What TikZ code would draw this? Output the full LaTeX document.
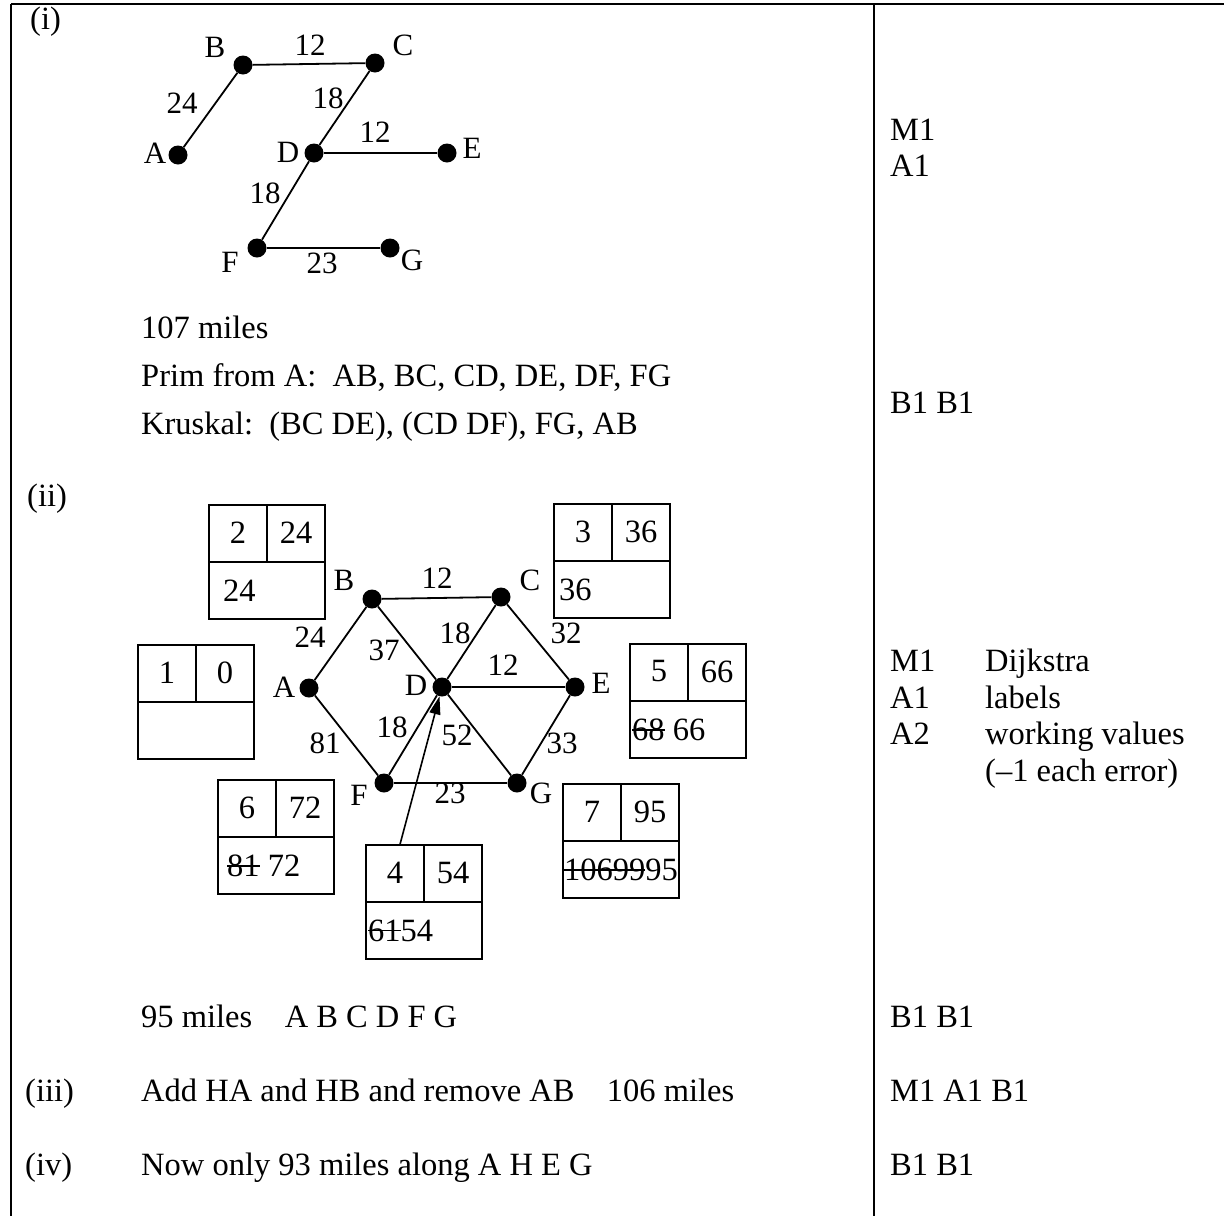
\documentclass[tikz,border=0pt]{standalone}
\usepackage{fontspec}
\setmainfont{Liberation Serif}
\usepackage{tikz}
\usetikzlibrary{arrows.meta}

\tikzset{
  vtx/.style={circle, fill=black, inner sep=0pt, minimum size=19pt},
  glabel/.style={inner sep=0pt, font=\fontsize{31}{34}\selectfont},
  edge/.style={line width=1.8pt},
  frameline/.style={line width=2.4pt},
  distbox/.style={draw, line width=2.2pt, minimum width=116pt, minimum height=114pt, inner sep=0pt, anchor=north west},
  cell/.style={inner sep=0pt},
  txt/.style={anchor=base west, inner sep=0pt},
  pointer/.style={line width=1.6pt, -{Triangle[length=18pt, width=11pt]}},
}

% crossed-out working value
\newsavebox{\strikebox}
\newcommand{\strikeval}[1]{\sbox{\strikebox}{#1}\rlap{\rule[0.3em]{\wd\strikebox}{1.6pt}}\usebox{\strikebox}}

% name, position, order, distance, offset of working values, working values
\newcommand{\distlabel}[6]{%
  \node[distbox] (#1) at #2 {};
  \draw[line width=2.2pt] (#1.west) -- (#1.east) (#1.north) -- (#1.center);
  \node[cell] (#1-ord) at ([shift={(-29,28.5)}]#1.north) {#3};
  \node[cell] (#1-dist) at ([shift={(29,28.5)}]#1.north) {#4};
  \node[cell, anchor=west] (#1-work) at ([shift={(#5,28.5)}]#1.west) {#6};
}

\begin{document}
\begin{tikzpicture}[x=1pt, y=-1pt, font=\fontsize{32.5}{38}\selectfont]
  \path[use as bounding box] (0,0) rectangle (1224,1216);
  \draw[frameline] (11,4) -- (1224,4);
  \draw[frameline] (11,4) -- (11,1216);
  \draw[frameline] (874,4) -- (874,1216);

  \node[txt] (part1) at (30,29) {(i)};
  \node[vtx] (a1) at (178,155) {};
  \node[vtx] (b1) at (243,65) {};
  \node[vtx] (c1) at (375,63) {};
  \node[vtx] (d1) at (314,153) {};
  \node[vtx] (e1) at (447,153) {};
  \node[vtx] (f1) at (257,248) {};
  \node[vtx] (g1) at (390,248) {};
  \foreach \u/\v in {a1/b1, b1/c1, c1/d1, d1/e1, d1/f1, f1/g1}
    \draw[edge] (\u) -- (\v);
  \node[glabel] (la1) at (155,153) {A};
  \node[glabel] (lb1) at (215,47) {B};
  \node[glabel] (lc1) at (403,45) {C};
  \node[glabel] (ld1) at (288,152) {D};
  \node[glabel] (le1) at (472,148) {E};
  \node[glabel] (lf1) at (230,262) {F};
  \node[glabel] (lg1) at (412,260) {G};
  \node[glabel] (wab1) at (182,103) {24};
  \node[glabel] (wbc1) at (310,45) {12};
  \node[glabel] (wcd1) at (328,98) {18};
  \node[glabel] (wde1) at (375,132) {12};
  \node[glabel] (wdf1) at (265,193) {18};
  \node[glabel] (wfg1) at (322,263) {23};
  \node[txt] (total1) at (141,338) {107 miles};
  \node[txt] (prim) at (141,386) {Prim from A:\ \ AB, BC, CD, DE, DF, FG};
  \node[txt] (kruskal) at (141,434) {Kruskal:\ \ (BC DE), (CD DF), FG, AB};

  \node[txt] (part2) at (27,506) {(ii)};
  \node[vtx] (a2) at (309,688) {};
  \node[vtx] (b2) at (372,599) {};
  \node[vtx] (c2) at (501,597) {};
  \node[vtx] (d2) at (442,687) {};
  \node[vtx] (e2) at (575,687) {};
  \node[vtx] (f2) at (384,783) {};
  \node[vtx] (g2) at (517,783) {};
  \foreach \u/\v in {a2/b2, b2/c2, b2/d2, c2/d2, c2/e2, d2/e2, a2/f2, d2/f2, d2/g2, e2/g2, f2/g2}
    \draw[edge] (\u) -- (\v);
  \node[glabel] (la2) at (284,687) {A};
  \node[glabel] (lb2) at (344,580) {B};
  \node[glabel] (lc2) at (530,580) {C};
  \node[glabel] (ld2) at (416,685) {D};
  \node[glabel] (le2) at (601,683) {E};
  \node[glabel] (lf2) at (359,795) {F};
  \node[glabel] (lg2) at (541,793) {G};
  \node[glabel] (wbc2) at (437,578) {12};
  \node[glabel] (wab2) at (310,637) {24};
  \node[glabel] (wbd2) at (384,650) {37};
  \node[glabel] (wcd2) at (455,633) {18};
  \node[glabel] (wce2) at (566,633) {32};
  \node[glabel] (wde2) at (503,665) {12};
  \node[glabel] (wdf2) at (392,727) {18};
  \node[glabel] (wdg2) at (457,735) {52};
  \node[glabel] (waf2) at (325,743) {81};
  \node[glabel] (weg2) at (562,743) {33};
  \node[glabel] (wfg2) at (450,793) {23};

  \distlabel{boxa}{(137,644)}{1}{0}{4}{}
  \distlabel{boxb}{(208,504)}{2}{24}{15}{24}
  \distlabel{boxc}{(553,503)}{3}{36}{6}{36}
  \distlabel{boxe}{(629,643)}{5}{66}{3}{\strikeval{68} 66}
  \distlabel{boxf}{(217,779)}{6}{72}{10}{\strikeval{81} 72}
  \distlabel{boxd}{(365,844)}{4}{54}{3}{\strikeval{61}54}
  \distlabel{boxg}{(562,783)}{7}{95}{2}{\strikeval{106}\strikeval{99}95}
  \draw[pointer] ([xshift=-24pt]boxd.north) -- (d2);

  \node[txt] (total2) at (141,1027) {95 miles\quad A B C D F G};
  \node[txt] (part3) at (25,1101) {(iii)};
  \node[txt] (swap) at (141,1101) {Add HA and HB and remove AB\quad 106 miles};
  \node[txt] (part4) at (25,1175) {(iv)};
  \node[txt] (route) at (141,1175) {Now only 93 miles along A H E G};

  \node[txt] (mk1) at (890,140) {M1};
  \node[txt] (mk2) at (890,176) {A1};
  \node[txt] (mk3) at (890,413) {B1 B1};
  \node[txt] (mk4) at (890,671) {M1};
  \node[txt] (cm4) at (985,671) {Dijkstra};
  \node[txt] (mk5) at (890,708) {A1};
  \node[txt] (cm5) at (985,708) {labels};
  \node[txt] (mk6) at (890,744) {A2};
  \node[txt] (cm6) at (985,744) {working values};
  \node[txt] (cm7) at (985,781) {(–1 each error)};
  \node[txt] (mk8) at (890,1027) {B1 B1};
  \node[txt] (mk9) at (890,1101) {M1 A1 B1};
  \node[txt] (mk10) at (890,1175) {B1 B1};
\end{tikzpicture}
\end{document}
